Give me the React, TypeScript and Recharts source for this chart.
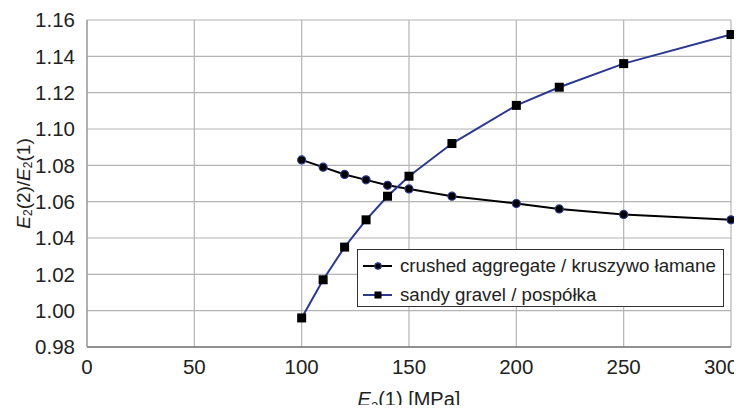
import React from 'react';
import {
  LineChart,
  Line,
  XAxis,
  YAxis,
  CartesianGrid,
} from 'recharts';

const crushedX = [100, 110, 120, 130, 140, 150, 170, 200, 220, 250, 300];
const crushedY = [1.083, 1.079, 1.075, 1.072, 1.069, 1.067, 1.063, 1.059, 1.056, 1.053, 1.05];

const gravelX = [100, 110, 120, 130, 140, 150, 170, 200, 220, 250, 300];
const gravelY = [0.996, 1.017, 1.035, 1.05, 1.063, 1.074, 1.092, 1.113, 1.123, 1.136, 1.152];

const xTicks = [0, 50, 100, 150, 200, 250, 300];
const yTicks = [0.98, 1.0, 1.02, 1.04, 1.06, 1.08, 1.1, 1.12, 1.14, 1.16];

const crushedName = 'crushed aggregate / kruszywo łamane';
const gravelName = 'sandy gravel / pospółka';

const crushedData = crushedX.map((x, i) => ({ x, y: crushedY[i] }));
const gravelData = gravelX.map((x, i) => ({ x, y: gravelY[i] }));

const BLUE = '#2b3990';
const FONT = '"Liberation Sans", Arial, sans-serif';

const SquareDot = (props: any) => {
  const { cx, cy } = props;
  if (cx == null || cy == null) return null;
  return <rect x={cx - 4.5} y={cy - 4.5} width={9} height={9} fill="#000" />;
};

const CircleDot = (props: any) => {
  const { cx, cy } = props;
  if (cx == null || cy == null) return null;
  return <circle cx={cx} cy={cy} r={4} fill="#000" stroke={BLUE} strokeWidth={1.2} />;
};

// last label is pushed left so it stays inside the picture
const XTick = (props: any) => {
  const { x, y, payload } = props;
  const tx = Math.min(x, 721);
  return (
    <text x={tx} y={y + 19} textAnchor="middle" fontFamily={FONT} fontSize={20.5} fill="#222">
      {payload.value}
    </text>
  );
};

const LegendBox = () => (
  <div
    style={{
      position: 'absolute',
      left: 357,
      top: 249,
      border: '1px solid #333',
      background: '#fff',
      width: 365,
      height: 56,
      fontFamily: FONT,
      fontSize: 18.7,
      color: '#222',
    }}
  >
    {[
      { name: crushedName, line: '#000', dot: 'circle' },
      { name: gravelName, line: BLUE, dot: 'square' },
    ].map((e, i) => (
      <div key={i} style={{ display: 'flex', alignItems: 'center', height: 29, marginTop: i === 0 ? 1 : 0 }}>
        <svg width={38} height={20} style={{ marginLeft: 4 }}>
          <line x1={1} y1={10} x2={30} y2={10} stroke={e.line} strokeWidth={2} />
          {e.dot === 'circle' ? (
            <circle cx={16} cy={10} r={3.2} fill="#000" stroke={BLUE} strokeWidth={1.2} />
          ) : (
            <rect x={12.5} y={6.5} width={7} height={7} fill="#000" />
          )}
        </svg>
        <span>{e.name}</span>
      </div>
    ))}
  </div>
);

const YLabel = (props: any) => {
  const vb = props.viewBox || {};
  const cx = 23;
  const cy = vb.y + vb.height / 2;
  return (
    <text
      x={cx}
      y={cy}
      transform={`rotate(-90, ${cx}, ${cy})`}
      textAnchor="middle"
      dominantBaseline="central"
      fontFamily={FONT}
      fontSize={19}
      fill="#222"
    >
      <tspan fontStyle="italic">E</tspan>
      <tspan fontSize={12} dy={5}>2</tspan>
      <tspan dy={-5}>(2)/</tspan>
      <tspan fontStyle="italic">E</tspan>
      <tspan fontSize={12} dy={5}>2</tspan>
      <tspan dy={-5}>(1)</tspan>
    </text>
  );
};

const XLabel = (props: any) => {
  const vb = props.viewBox || {};
  const cx = vb.x + vb.width / 2;
  return (
    <text x={cx} y={406} textAnchor="middle" fontFamily={FONT} fontSize={20} fill="#222">
      <tspan fontStyle="italic">E</tspan>
      <tspan fontSize={13} dy={5}>2</tspan>
      <tspan dy={-5}>(1) [MPa]</tspan>
    </text>
  );
};

const App = () => {
  return (
    <div style={{ position: 'relative', margin: -8, width: 742, height: 413, background: '#fff', overflow: 'hidden' }}>
      <div
        style={{
          position: 'absolute',
          left: 0,
          top: 143,
          width: 2,
          height: 270,
          background: '#888',
        }}
      />
      <LineChart width={742} height={413} margin={{ top: 20, right: 11, bottom: 0, left: 0 }}>
        <CartesianGrid stroke="#b4b4b4" strokeWidth={1.2} />
        <XAxis
          dataKey="x"
          type="number"
          domain={[0, 300]}
          ticks={xTicks}
          allowDuplicatedCategory={false}
          height={66}
          tickLine={false}
          axisLine={{ stroke: '#777', strokeWidth: 1.5 }}
          tick={<XTick />}
          label={<XLabel />}
        />
        <YAxis
          dataKey="y"
          type="number"
          domain={[0.98, 1.16]}
          ticks={yTicks}
          width={87}
          tickLine={false}
          axisLine={{ stroke: '#999', strokeWidth: 1.2 }}
          tick={{ fill: '#222', fontSize: 20.5, fontFamily: FONT }}
          tickMargin={6}
          tickFormatter={(v: number) => v.toFixed(2)}
          label={<YLabel />}
        />
        <Line
          data={crushedData}
          dataKey="y"
          name={crushedName}
          stroke="#000"
          strokeWidth={2}
          dot={<CircleDot />}
          isAnimationActive={false}
        />
        <Line
          data={gravelData}
          dataKey="y"
          name={gravelName}
          stroke={BLUE}
          strokeWidth={2}
          dot={<SquareDot />}
          isAnimationActive={false}
        />
      </LineChart>
      <LegendBox />
    </div>
  );
};

export default App;
